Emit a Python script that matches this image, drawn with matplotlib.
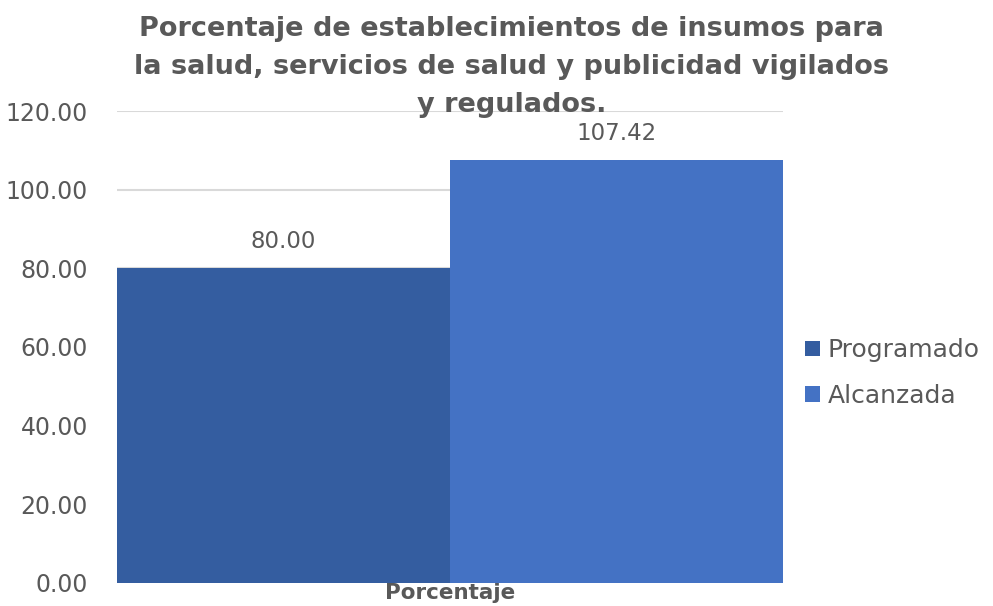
import matplotlib
matplotlib.use("Agg")
from matplotlib import pyplot as plt
import numpy as np

# Indicador: establecimientos vigilados y regulados
series = ["Programado", "Alcanzada"]
values = [80.00, 107.42]
category = "Porcentaje"
yticks = [0, 20, 40, 60, 80, 100, 120]

colors = ["#345DA0", "#4472C4"]
gray = "#595959"

plt.rcParams['font.family'] = ['DejaVu Sans']

fig = plt.figure(figsize=(9.93, 6.06), dpi=100)
ax = fig.add_axes([0.1178, 0.038, 0.6707, 0.7788])

x = np.arange(len(values))
bars = ax.bar(x, values, width=1.0, color=colors, zorder=2)
for i, b in enumerate(bars):
    ax.text(b.get_x() + b.get_width() / 2, values[i] + 4, f"{values[i]:.2f}",
            ha="center", va="bottom", fontsize=16.5, color=gray)

ax.set_xlim(-0.5, 1.5)
ax.set_ylim(0, 120)
ax.set_yticks(yticks)
ax.set_yticklabels([f"{v:.2f}" for v in yticks], fontsize=17, color=gray)
ax.set_xticks([0.5])
ax.set_xticklabels([category], fontsize=15.5, fontweight="bold", color=gray)
ax.tick_params(axis="both", length=0)
ax.tick_params(axis="y", pad=21)
ax.tick_params(axis="x", pad=0)
ax.yaxis.grid(True, color="#D9D9D9", linewidth=1.5, zorder=0)
ax.set_axisbelow(True)
for s in ax.spines.values():
    s.set_visible(False)

fig.text(0.515, 0.974,
         "Porcentaje de establecimientos de insumos para\n"
         "la salud, servicios de salud y publicidad vigilados\n"
         "y regulados.",
         ha="center", va="top", fontsize=19.5, fontweight="bold", color=gray,
         linespacing=1.6, zorder=5)

ax.legend(handles=list(bars), labels=series, loc="center left",
          bbox_to_anchor=(1.0, 0.445), frameon=False, fontsize=18,
          handlelength=0.6, handleheight=0.6, handletextpad=0.3,
          labelspacing=0.85, labelcolor=gray, borderaxespad=0.5)

fig.savefig("out.png", dpi=100)
